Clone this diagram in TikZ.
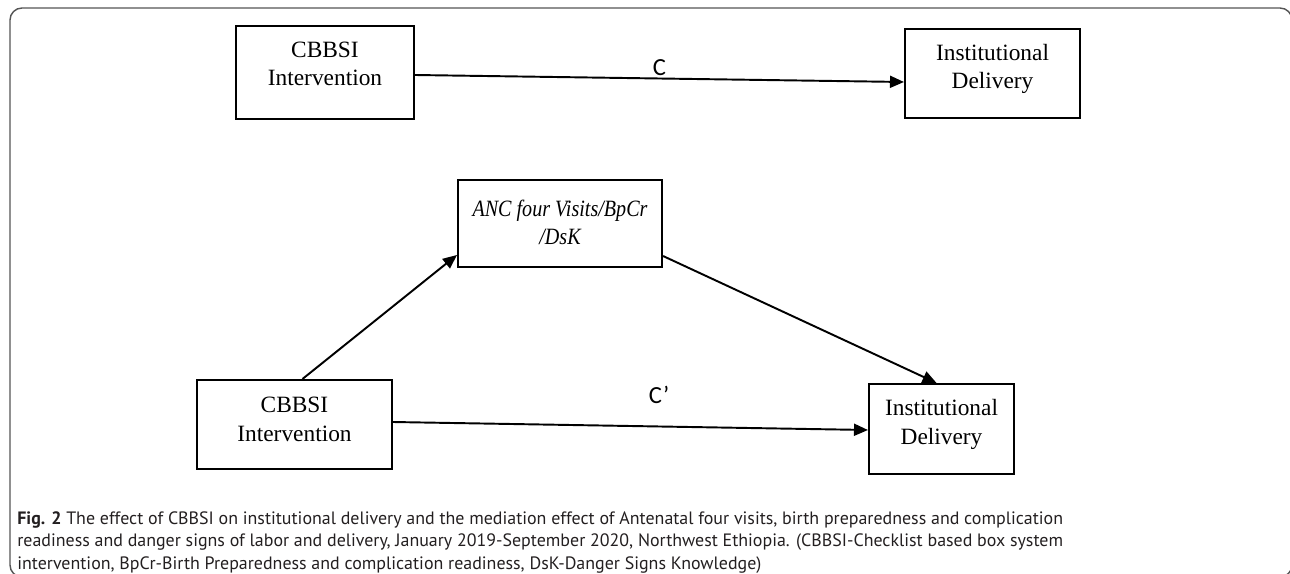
\documentclass[tikz,border=0pt]{standalone}
\usepackage{fontspec}
\setmainfont{Liberation Serif}
\newfontfamily\capfont{PT Sans}
\newfontfamily\lblfont{Carlito}
\newfontfamily\medfont[FakeStretch=0.86]{Liberation Serif}
\usetikzlibrary{positioning,arrows.meta,calc}
\definecolor{frGray}{RGB}{85,85,85}
\definecolor{capInk}{RGB}{35,31,32}
\tikzset{
    varbox/.style={draw, line width=1.2pt, align=center, inner sep=0pt,
                   font=\fontsize{13.3}{16.5}\selectfont, text height=1.2cm},
    effect/.style={-{Triangle[length=0.28cm,width=0.24cm]}, line width=1.1pt},
    coef/.style={font=\lblfont\fontsize{14}{16}\selectfont, inner sep=1pt},
    caption/.style={anchor=north west, align=left, inner sep=0pt, text=capInk,
                    font=\capfont\fontsize{10.2}{12.8}\selectfont}
}

\begin{document}
\begin{tikzpicture}[x=0.02cm, y=-0.02cm]
  \useasboundingbox (0,0) rectangle (1290,574);
  \draw[frGray, line width=0.8pt, rounded corners=0.24cm] (10,8) rectangle (1292,577);

  % total effect
  \node[varbox, minimum width=3.56cm, text depth=0.66cm] (int1) at (325,72.5) {CBBSI\\Intervention};
  \node[varbox, minimum width=3.5cm, text depth=0.58cm] (del1) at (992.5,73.5) {Institutional\\Delivery};
  \draw[effect] ($(int1.east)+(0,2.5)$) -- node[coef, above] (c) {C} ($(del1.west)+(0,8.5)$);

  % mediation
  \node[varbox, minimum width=4.08cm, text height=1.3cm, text depth=0.44cm,
        font=\medfont\itshape\fontsize{13.3}{16.5}\selectfont] (med) at (560,223.5) {ANC four Visits/BpCr\\/DsK};
  \node[varbox, minimum width=3.9cm, text height=1.22cm, text depth=0.56cm] (int2) at (294.5,424.5) {CBBSI\\Intervention};
  \node[varbox, minimum width=2.9cm, text depth=0.6cm] (del2) at (941.5,429) {Institutional\\Delivery};
  \draw[effect] ($(int2.north)+(8,0)$) -- ($(med.west)+(0,31.5)$);
  \draw[effect] ($(med.east)+(0,32.5)$) -- ($(del2.north)+(-5,0)$);
  \draw[effect] ($(int2.east)+(0,-2.5)$) -- node[coef, pos=0.56, above=0.4cm] (cp) {C’} ($(del2.west)+(0,1)$);

  \node[caption] (cap) at (17,511) {\textbf{Fig. 2} The effect of CBBSI on institutional delivery and the mediation effect of Antenatal four visits, birth preparedness and complication\\
readiness and danger signs of labor and delivery, January 2019-September 2020, Northwest Ethiopia. (CBBSI-Checklist based box system\\
intervention, BpCr-Birth Preparedness and complication readiness, DsK-Danger Signs Knowledge)};
\end{tikzpicture}
\end{document}
